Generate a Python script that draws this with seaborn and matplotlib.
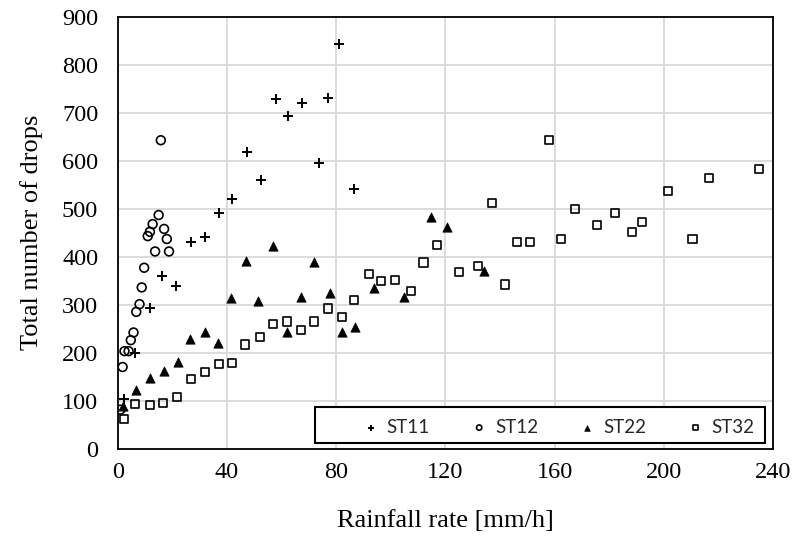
import matplotlib
matplotlib.use("Agg")
import matplotlib.pyplot as plt
from matplotlib.patches import Rectangle
import seaborn as sns
import pandas as pd

# ---- data ----
st11_x = [2.2, 6.3, 12.0, 16.4, 21.5, 27.0, 32.0, 37.0, 42.0, 47.5, 52.4, 58.0, 62.3, 67.5, 73.8, 77.0, 81.0, 86.6]
st11_y = [104, 200, 294, 360, 338, 430, 441, 491, 521, 619, 561, 730, 694, 720, 595, 731, 844, 541]

st12_x = [1.0, 1.8, 2.5, 4.0, 4.8, 5.8, 6.8, 8.0, 8.8, 9.7, 11.0, 11.8, 12.8, 13.7, 15.0, 15.8, 17.0, 18.0, 18.8]
st12_y = [81, 170, 203, 203, 226, 242, 285, 301, 336, 377, 443, 452, 468, 411, 487, 643, 458, 437, 411]

st22_x = [2.0, 6.7, 11.8, 17.0, 22.0, 26.4, 32.0, 36.6, 41.6, 47.0, 51.3, 57.0, 62.0, 67.0, 72.0, 77.6, 82.0, 87.0, 94.0, 105.0, 114.8, 120.6, 134.0]
st22_y = [88, 122, 147, 161, 181, 228, 242, 220, 313, 392, 308, 423, 242, 315, 388, 325, 244, 253, 334, 316, 482, 461, 371]

st32_x = [2.4, 6.3, 11.9, 16.7, 21.8, 26.7, 32.0, 37.0, 42.0, 46.5, 52.0, 57.0, 62.0, 67.0, 72.0, 77.0, 82.0, 86.6,
          92.0, 96.5, 101.5, 107.4, 112.0, 117.0, 125.0, 132.0, 137.0, 142.0, 146.3, 151.0, 158.0, 162.5, 167.4,
          175.6, 182.0, 188.5, 192.0, 201.6, 210.5, 216.6, 235.0]
st32_y = [62, 93, 91, 94, 107, 145, 160, 177, 179, 217, 233, 260, 265, 247, 265, 292, 274, 309,
          364, 349, 352, 329, 388, 424, 368, 380, 513, 342, 430, 430, 643, 437, 500,
          467, 492, 451, 472, 537, 437, 564, 583]

x_ticks = [0, 40, 80, 120, 160, 200, 240]
y_ticks = [0, 100, 200, 300, 400, 500, 600, 700, 800, 900]

series = [
    ("ST11", st11_x, st11_y),
    ("ST12", st12_x, st12_y),
    ("ST22", st22_x, st22_y),
    ("ST32", st32_x, st32_y),
]

sns.set_theme(style="white")
plt.rcParams["font.family"] = ["Liberation Serif", "DejaVu Serif"]

fig = plt.figure(figsize=(7.93, 5.37), dpi=100)
ax = fig.add_axes([0.1484, 0.1648, 0.8264, 0.8035])

styles = {
    "ST11": dict(marker="+", color="black", s=55, linewidth=1.4),
    "ST12": dict(marker="o", color="black", facecolor="none", edgecolor="black", s=40, linewidth=1.2),
    "ST22": dict(marker="^", color="black", edgecolor="black", s=45, linewidth=0.5),
    "ST32": dict(marker="s", color="black", facecolor="none", edgecolor="black", s=34, linewidth=1.2),
}

for name, xs, ys in series:
    df = pd.DataFrame({"x": xs, "y": ys})
    sns.scatterplot(data=df, x="x", y="y", ax=ax, label=name, zorder=3, **styles[name])

ax.set_xlim(0, 240)
ax.set_ylim(0, 900)
ax.set_xticks(x_ticks)
ax.set_yticks(y_ticks)
ax.grid(True, color="#d9d9d9", linewidth=1.3, zorder=0)
ax.set_axisbelow(True)
for sp in ax.spines.values():
    sp.set_color("black")
    sp.set_linewidth(1.3)
ax.tick_params(axis="both", which="both", length=0, labelsize=17.5, colors="black")
ax.tick_params(axis="x", pad=10)
ax.tick_params(axis="y", pad=14)
ax.set_xlabel("Rainfall rate [mm/h]", fontsize=19, color="black", labelpad=19)
ax.set_ylabel("Total number of drops", fontsize=19, color="black", labelpad=14)

# legend box (frame) and legend entries
frame = Rectangle((0.301, 0.0127), 0.687, 0.083, transform=ax.transAxes,
                  facecolor="white", edgecolor="black", linewidth=1.5, zorder=4)
ax.add_patch(frame)
leg = ax.legend(loc="lower left", bbox_to_anchor=(0.362, 0.0127, 0.621, 0.083),
                mode="expand", ncol=4, frameon=False,
                markerscale=0.6, handlelength=0.9, handletextpad=0.4, borderaxespad=0,
                prop={"family": "Lato", "size": 13.5})
leg.set_zorder(5)

fig.savefig("out.png", dpi=100)
